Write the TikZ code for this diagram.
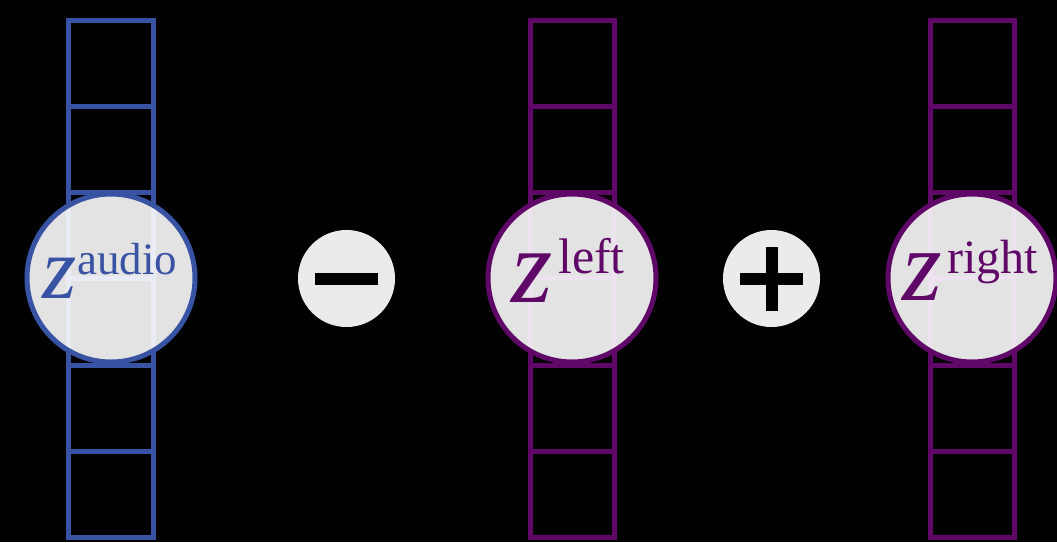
\documentclass[tikz,border=0pt]{standalone}
\usepackage{fontspec}
\setmainfont{Liberation Serif}
\definecolor{zblue}{RGB}{57,83,164}
\definecolor{zpurple}{RGB}{96,8,104}
\definecolor{opgray}{RGB}{235,235,235}
\tikzset{
  cellbox/.style={line width=5pt},
  bigcirc/.style={circle, line width=5pt, fill=white, fill opacity=0.89, minimum size=168pt, inner sep=0pt},
  opcirc/.style={circle, fill=opgray, minimum size=97pt, inner sep=0pt},
  zlab/.style={anchor=base west, inner sep=0pt, font=\itshape},
  suplab/.style={anchor=base west, inner sep=0pt},
  barpart/.style={fill=black, draw=none}
}
\begin{document}
\begin{tikzpicture}[x=1pt,y=-1pt]
\fill[black] (0,0) rectangle (1057,542);
\useasboundingbox (0,0) rectangle (1057,542);
% columns of cells
\foreach \xl/\col in {68.5/zblue, 530/zpurple, 930/zpurple}{
  \foreach \i in {0,...,5}{
    \draw[cellbox, draw=\col] (\xl, {20+86.25*\i}) rectangle ({\xl+84.5}, {20+86.25*(\i+1)});
  }
}
% big circles
\node[bigcirc, draw=zblue] (ca) at (111,278) {};
\node[bigcirc, draw=zpurple] (cl) at (572,278) {};
\node[bigcirc, draw=zpurple] (cr) at (972,278) {};
% labels
\node[zlab, text=zblue] (za) at (42,298) {\fontsize{88}{88}\selectfont z};
\node[suplab, text=zblue] (sa) at (77,274) {\fontsize{45}{45}\selectfont audio};
\node[zlab, text=zpurple] (zl) at (511,302) {\fontsize{106}{106}\selectfont z};
\node[suplab, text=zpurple] (sl) at (558,273) {\fontsize{50}{50}\selectfont left};
\node[zlab, text=zpurple] (zr) at (902,300) {\fontsize{102}{102}\selectfont z};
\node[suplab, text=zpurple] (sr) at (947,273) {\fontsize{48}{48}\selectfont right};
% operators
\node[opcirc] (minus) at (346.5,278.5) {};
\fill[barpart] ([xshift=-31.5pt,yshift=-6pt]minus.center) rectangle ([xshift=31.5pt,yshift=6pt]minus.center);
\node[opcirc] (plus) at (771.5,278.5) {};
\fill[barpart] ([xshift=-31.5pt,yshift=-6pt]plus.center) rectangle ([xshift=31.5pt,yshift=6pt]plus.center);
\fill[barpart] ([xshift=-6pt,yshift=-32pt]plus.center) rectangle ([xshift=6pt,yshift=32pt]plus.center);
\end{tikzpicture}
\end{document}
